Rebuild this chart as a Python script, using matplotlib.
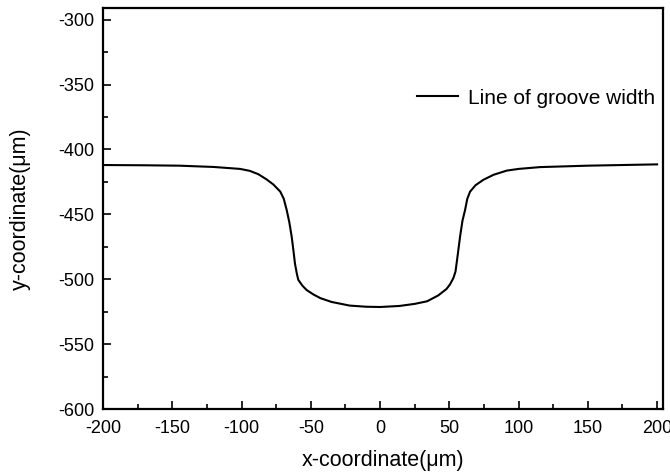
import matplotlib
matplotlib.use("Agg")
import matplotlib.pyplot as plt
from matplotlib.ticker import MultipleLocator

plt.rcParams["font.family"] = ["Liberation Sans", "DejaVu Sans"]
plt.rcParams["axes.unicode_minus"] = False

# groove profile
x_um = [-200, -170, -145, -120, -101, -94, -88, -82, -77, -72, -69.5, -67.4, -65.5, -63.8,
        -62.5, -61.4, -60, -59, -56, -53, -48, -43, -35, -22, -10, 0, 14, 25, 34, 42, 48,
        50.5, 53, 54.5, 56, 57.8, 59.5, 61.4, 63, 65, 69, 74.6, 82, 91.5, 100, 115.5, 150, 200]
y_um = [-412, -412.2, -412.5, -413.5, -415, -416.5, -419, -423, -427, -432.5, -438, -446.6,
        -456, -467, -478, -488, -496, -500.5, -505, -508.3, -511.8, -514.6, -517.5, -520.3,
        -521.2, -521.4, -520.6, -519, -517, -512.5, -507.5, -504, -499, -494, -482, -467,
        -455, -446.6, -438, -432.5, -427.5, -423.4, -419.5, -416.3, -415, -413.6, -412.5, -411.5]

fig = plt.figure(figsize=(6.70, 4.73), dpi=100)
ax = fig.add_axes([0.1537, 0.1353, 0.8359, 0.8478])

ax.plot(x_um, y_um, color="black", lw=1.5, label="Line of groove width")

ax.set_xlim(-200, 204.3)
ax.set_ylim(-600, -291)
ax.xaxis.set_major_locator(MultipleLocator(50))
ax.xaxis.set_minor_locator(MultipleLocator(25))
ax.yaxis.set_major_locator(MultipleLocator(50))
ax.yaxis.set_minor_locator(MultipleLocator(25))
ax.tick_params(which="both", direction="in", top=False, right=False, labelsize=13, width=1.2)
ax.tick_params(which="major", length=6)
ax.tick_params(which="minor", length=3.5)
ax.tick_params(axis="x", pad=8)
ax.tick_params(axis="y", pad=6)
for sp in ax.spines.values():
    sp.set_linewidth(1.6)

ax.set_xlabel("x-coordinate(\u03bcm)", fontsize=15.5, labelpad=9)
ax.set_ylabel("y-coordinate(\u03bcm)", fontsize=15.5, labelpad=20)

ax.legend(loc="center right", bbox_to_anchor=(1.0, 0.775), frameon=False, fontsize=15,
          handlelength=2.0, handletextpad=0.45, borderaxespad=0.0)

fig.savefig("out.png", dpi=100)
